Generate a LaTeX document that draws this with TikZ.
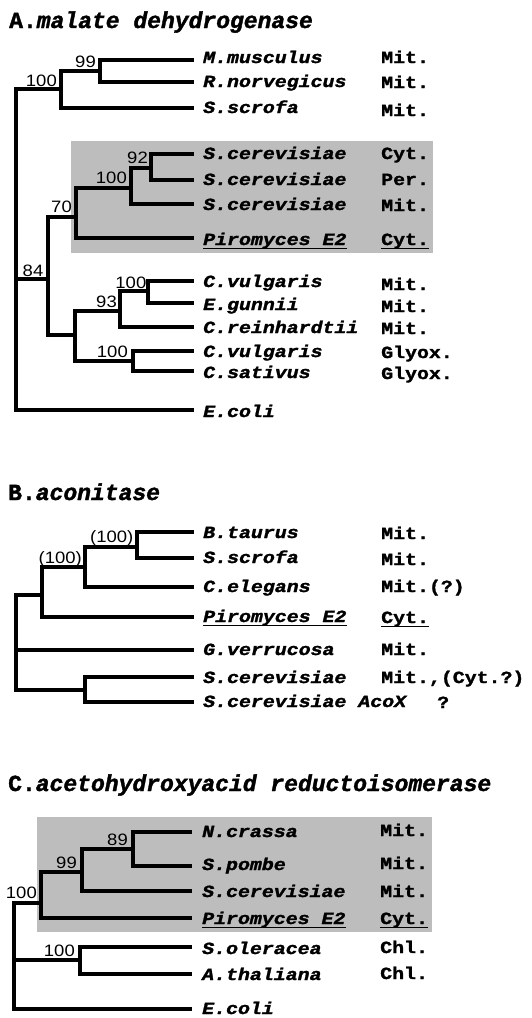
\documentclass[tikz,border=0pt]{standalone}
\usepackage{fontspec}
\newfontfamily\spfont[FakeStretch=1.17, BoldFeatures={FakeBold=1.6}, BoldItalicFeatures={FakeBold=1.6}]{Liberation Mono}
\newfontfamily\numfont[FakeStretch=1.12]{Liberation Sans}
\newfontfamily\titlefont[BoldFeatures={FakeBold=1.6}, BoldItalicFeatures={FakeBold=1.6}]{Liberation Mono}
\tikzset{
  br/.style={line width=3.4pt, line join=miter},
  sp/.style={anchor=base west, inner sep=0pt, font=\spfont\bfseries\itshape\fontsize{17}{17}\selectfont},
  cp/.style={anchor=base west, inner sep=0pt, font=\spfont\bfseries\fontsize{17}{17}\selectfont},
  bs/.style={anchor=base east, inner sep=0pt, font=\numfont\fontsize{16.5}{16.5}\selectfont},
  ttl/.style={anchor=base west, inner sep=0pt, font=\titlefont\bfseries\fontsize{23}{23}\selectfont},
  shadebox/.style={fill=black!26, draw=none},
  ul/.style={line width=1.3pt},
}
\begin{document}
\begin{tikzpicture}[x=1pt,y=-1pt]
\useasboundingbox[fill=white] (0,0) rectangle (532,1018);

% ================= A =================
\node[ttl] (tA) at (9,28) {A.\textit{malate dehydrogenase}};
\fill[shadebox] (71,141) rectangle (433,253);

\coordinate (rA) at (16,89);
\coordinate (a100) at (61,89);
\coordinate (a99) at (100,71);
\coordinate (a84) at (48,279);
\coordinate (a70) at (76,217);
\coordinate (a100b) at (131,188);
\coordinate (a92) at (151,168);
\coordinate (aL) at (75,335);
\coordinate (a93) at (120,311);
\coordinate (a100c) at (148,291);
\coordinate (agl) at (133,361);

\coordinate (tMm) at (194,60);
\coordinate (tRn) at (194,82);
\coordinate (tSs) at (194,108);
\coordinate (tSc1) at (194,154);
\coordinate (tSc2) at (194,180);
\coordinate (tSc3) at (194,204);
\coordinate (tApi) at (194,238);
\coordinate (tCv1) at (194,281);
\coordinate (tEg) at (194,303);
\coordinate (tCr) at (194,327);
\coordinate (tCv2) at (194,351);
\coordinate (tCs) at (194,371);
\coordinate (tAec) at (194,410);

\draw[br] (a100) -- (rA) |- (tAec);
\draw[br] (rA) |- (a84);
\draw[br] (a100) |- (a99);
\draw[br] (a100) |- (tSs);
\draw[br] (a99) |- (tMm);
\draw[br] (a99) |- (tRn);
\draw[br] (a84) |- (a70);
\draw[br] (a84) |- (aL);
\draw[br] (a70) |- (a100b);
\draw[br] (a70) |- (tApi);
\draw[br] (a100b) |- (a92);
\draw[br] (a100b) |- (tSc3);
\draw[br] (a92) |- (tSc1);
\draw[br] (a92) |- (tSc2);
\draw[br] (aL) |- (a93);
\draw[br] (aL) |- (agl);
\draw[br] (a93) |- (a100c);
\draw[br] (a93) |- (tCr);
\draw[br] (a100c) |- (tCv1);
\draw[br] (a100c) |- (tEg);
\draw[br] (agl) |- (tCv2);
\draw[br] (agl) |- (tCs);

\node[bs] (la100) at ([xshift=-4pt,yshift=2.5pt]a100) {100};
\node[bs] (la99) at ([xshift=-4pt,yshift=3.5pt]a99) {99};
\node[bs] (la84) at ([xshift=-4.5pt,yshift=2.5pt]a84) {84};
\node[bs] (la70) at ([xshift=-4pt,yshift=4.5pt]a70) {70};
\node[bs] (la100b) at ([xshift=-4pt,yshift=4.5pt]a100b) {100};
\node[bs] (la92) at ([xshift=-3pt,yshift=4.5pt]a92) {92};
\node[bs] (la93) at ([xshift=-3pt,yshift=4pt]a93) {93};
\node[bs] (la100c) at ([xshift=-1.5pt,yshift=3pt]a100c) {100};
\node[bs] (lagl) at ([xshift=-5pt,yshift=3.5pt]agl) {100};

\node[sp] (sMm) at (203,63) {M.musculus};
\node[sp] (sRn) at (203,87) {R.norvegicus};
\node[sp] (sSs) at (203,113) {S.scrofa};
\node[sp] (sSc1) at (203,159) {S.cerevisiae};
\node[sp] (sSc2) at (203,185) {S.cerevisiae};
\node[sp] (sSc3) at (203,210) {S.cerevisiae};
\node[sp] (sApi) at (203,245) {Piromyces E2};
\node[sp] (sCv1) at (203,287) {C.vulgaris};
\node[sp] (sEg) at (203,310) {E.gunnii};
\node[sp] (sCr) at (203,333) {C.reinhardtii};
\node[sp] (sCv2) at (203,357) {C.vulgaris};
\node[sp] (sCs) at (203,378) {C.sativus};
\node[sp] (sAec) at (203,417) {E.coli};

\node[cp] (cMm) at (381,63) {Mit.};
\node[cp] (cRn) at (381,88) {Mit.};
\node[cp] (cSs) at (381,116) {Mit.};
\node[cp] (cSc1) at (381,159) {Cyt.};
\node[cp] (cSc2) at (381,185) {Per.};
\node[cp] (cSc3) at (381,211) {Mit.};
\node[cp] (cApi) at (381,245) {Cyt.};
\node[cp] (cCv1) at (381,290) {Mit.};
\node[cp] (cEg) at (381,312) {Mit.};
\node[cp] (cCr) at (381,334) {Mit.};
\node[cp] (cCv2) at (381,358) {Glyox.};
\node[cp] (cCs) at (381,379) {Glyox.};

\draw[ul] ([yshift=-3.5pt]sApi.base west) -- ([yshift=-3.5pt]sApi.base east);
\draw[ul] ([yshift=-3.5pt]cApi.base west) -- ([yshift=-3.5pt]cApi.base east);

% ================= B =================
\node[ttl] (tB) at (8,500) {B.\textit{aconitase}};

\coordinate (rB) at (16,595);
\coordinate (b1) at (42,595);
\coordinate (b2) at (85,567);
\coordinate (b3) at (137,547);
\coordinate (bsc) at (85,690);

\coordinate (tBt) at (194,532);
\coordinate (tBs) at (194,558);
\coordinate (tBce) at (194,587);
\coordinate (tBpi) at (194,617);
\coordinate (tBgv) at (194,650);
\coordinate (tBsc) at (194,677);
\coordinate (tBsa) at (194,702);

\draw[br] (b1) -- (rB) |- (bsc);
\draw[br] (rB) |- (tBgv);
\draw[br] (b1) |- (b2);
\draw[br] (b1) |- (tBpi);
\draw[br] (b2) |- (b3);
\draw[br] (b2) |- (tBce);
\draw[br] (b3) |- (tBt);
\draw[br] (b3) |- (tBs);
\draw[br] (bsc) |- (tBsc);
\draw[br] (bsc) |- (tBsa);

\node[bs] (lb3) at ([xshift=-3.5pt,yshift=5pt]b3) {(100)};
\node[bs] (lb2) at ([xshift=-3pt,yshift=4pt]b2) {(100)};

\node[sp] (sBt) at (203,538) {B.taurus};
\node[sp] (sBs) at (203,563) {S.scrofa};
\node[sp] (sBce) at (203,592) {C.elegans};
\node[sp] (sBpi) at (203,622) {Piromyces E2};
\node[sp] (sBgv) at (203,655) {G.verrucosa};
\node[sp] (sBsc) at (203,683) {S.cerevisiae};
\node[sp] (sBsa) at (203,707) {S.cerevisiae AcoX};

\node[cp] (cBt) at (381,539) {Mit.};
\node[cp] (cBs) at (381,565) {Mit.};
\node[cp] (cBce) at (381,592) {Mit.(?)};
\node[cp] (cBpi) at (381,623) {Cyt.};
\node[cp] (cBgv) at (381,655) {Mit.};
\node[cp] (cBsc) at (381,683) {Mit.,(Cyt.?)};
\node[cp] (cBsa) at (437,708) {?};

\draw[ul] ([yshift=-3.5pt]sBpi.base west) -- ([yshift=-3.5pt]sBpi.base east);
\draw[ul] ([yshift=-3.5pt]cBpi.base west) -- ([yshift=-3.5pt]cBpi.base east);

% ================= C =================
\node[ttl] (tC) at (8,791) {C.\textit{acetohydroxyacid reductoisomerase}};
\fill[shadebox] (37,817) rectangle (432,932);

\coordinate (rC) at (14,903);
\coordinate (c1) at (41,903);
\coordinate (c99) at (82,872);
\coordinate (c89) at (133,849);
\coordinate (cchl) at (80,960);

\coordinate (tCn) at (192,832);
\coordinate (tCsp) at (192,866);
\coordinate (tCsc) at (192,891);
\coordinate (tCpi) at (192,918);
\coordinate (tCso) at (192,947);
\coordinate (tCat) at (192,974);
\coordinate (tCec) at (192,1009);

\draw[br] (c1) -- (rC) |- (tCec);
\draw[br] (rC) |- (cchl);
\draw[br] (c1) |- (c99);
\draw[br] (c1) |- (tCpi);
\draw[br] (c99) |- (c89);
\draw[br] (c99) |- (tCsc);
\draw[br] (c89) |- (tCn);
\draw[br] (c89) |- (tCsp);
\draw[br] (cchl) |- (tCso);
\draw[br] (cchl) |- (tCat);

\node[bs] (lc1) at ([xshift=-4pt,yshift=5pt]c1) {100};
\node[bs] (lc99) at ([xshift=-5pt,yshift=4pt]c99) {99};
\node[bs] (lc89) at ([xshift=-5pt,yshift=4pt]c89) {89};
\node[bs] (lcchl) at ([xshift=-5pt,yshift=4pt]cchl) {100};

\node[sp] (sCn) at (202,837) {N.crassa};
\node[sp] (sCsp) at (202,870) {S.pombe};
\node[sp] (sCsc) at (202,897) {S.cerevisiae};
\node[sp] (sCpi) at (202,924) {Piromyces E2};
\node[sp] (sCso) at (202,954) {S.oleracea};
\node[sp] (sCat) at (202,980) {A.thaliana};
\node[sp] (sCec) at (202,1014) {E.coli};

\node[cp] (cCn) at (380,836) {Mit.};
\node[cp] (cCsp) at (380,869) {Mit.};
\node[cp] (cCsc) at (380,897) {Mit.};
\node[cp] (cCpi) at (380,924) {Cyt.};
\node[cp] (cCso) at (380,953) {Chl.};
\node[cp] (cCat) at (380,979) {Chl.};

\draw[ul] ([yshift=-3.5pt]sCpi.base west) -- ([yshift=-3.5pt]sCpi.base east);
\draw[ul] ([yshift=-3.5pt]cCpi.base west) -- ([yshift=-3.5pt]cCpi.base east);
\end{tikzpicture}
\end{document}
